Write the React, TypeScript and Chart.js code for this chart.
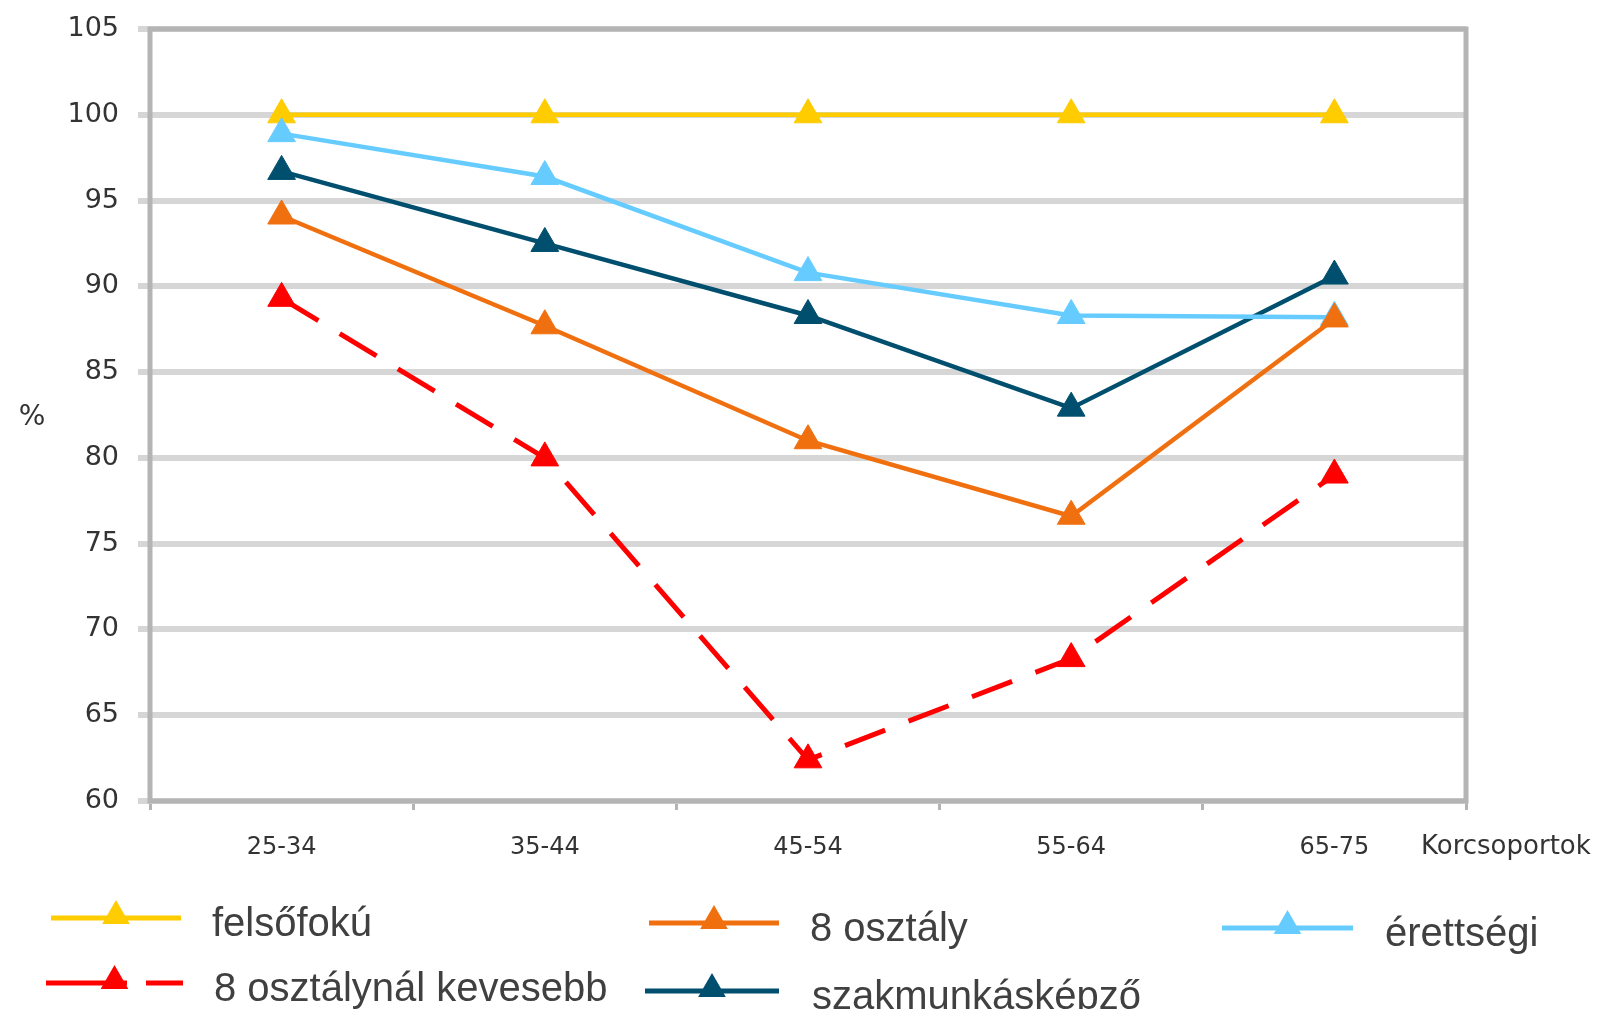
import React, { useEffect, useRef } from 'react';
import { Chart, registerables } from 'chart.js';

Chart.register(...registerables);

// Age groups on the x axis
const ageGroups = ['25-34', '35-44', '45-54', '55-64', '65-75'];

// Share (%) by highest level of education
const felsofoku = [100, 100, 100, 100, 100];
const osztaly8 = [94.1, 87.7, 81.0, 76.6, 88.1];
const erettsegi = [98.9, 96.4, 90.8, 88.3, 88.2];
const kevesebb8 = [89.3, 80.0, 62.4, 68.3, 79.0];
const szakmunkas = [96.7, 92.5, 88.3, 82.9, 90.6];

const seriesLabels = [
  'felsőfokú',
  '8 osztály',
  'érettségi',
  '8 osztálynál kevesebb',
  'szakmunkásképző',
];

const yMin = 60;
const yMax = 105;
const yStep = 5;
const yTitle = '%';
const xTitle = 'Korcsoportok';

const TICK_FONT = '"DejaVu Sans", sans-serif';
const LEGEND_FONT = '"Liberation Sans", Arial, sans-serif';
const TEXT_COLOR = '#333333';
const FRAME_COLOR = '#b4b4b4';

// Legend slot for each dataset (line start/end, line y, text x)
const legendSlots = [
  { x1: 51, x2: 181, y: 918, tx: 212, dash: [] as number[] },
  { x1: 649, x2: 779, y: 923, tx: 810, dash: [] as number[] },
  { x1: 1222, x2: 1353, y: 928, tx: 1385, dash: [] as number[] },
  { x1: 46, x2: 183, y: 983, tx: 214, dash: [81, 19, 40] },
  { x1: 645, x2: 779, y: 991, tx: 812, dash: [] as number[] },
];

function triangle(ctx: CanvasRenderingContext2D, x: number, y: number, r: number) {
  ctx.beginPath();
  ctx.moveTo(x, y - r);
  ctx.lineTo(x + r * 0.866, y + r / 2);
  ctx.lineTo(x - r * 0.866, y + r / 2);
  ctx.closePath();
  ctx.fill();
}

const framePlugin = {
  id: 'plotFrame',
  beforeDatasetsDraw(chart: any) {
    const { ctx, chartArea: a } = chart;
    ctx.save();
    ctx.strokeStyle = FRAME_COLOR;
    ctx.lineWidth = 5;
    ctx.strokeRect(a.left, a.top, a.right - a.left, a.bottom - a.top);
    ctx.restore();
  },
};

const annotationsPlugin = {
  id: 'legendAndTitles',
  afterDraw(chart: any) {
    const { ctx } = chart;
    ctx.save();
    // axis titles
    ctx.fillStyle = TEXT_COLOR;
    ctx.textBaseline = 'middle';
    ctx.textAlign = 'center';
    ctx.font = `28px ${TICK_FONT}`;
    ctx.fillText(yTitle, 32, 418);
    ctx.textAlign = 'left';
    ctx.font = `26px ${TICK_FONT}`;
    ctx.fillText(xTitle, 1421, 847);

    // legend
    chart.data.datasets.forEach((ds: any, i: number) => {
      const s = legendSlots[i];
      if (!s) return;
      ctx.strokeStyle = ds.borderColor;
      ctx.fillStyle = ds.borderColor;
      ctx.lineWidth = 5;
      ctx.setLineDash(s.dash);
      ctx.beginPath();
      ctx.moveTo(s.x1, s.y);
      ctx.lineTo(s.x2, s.y);
      ctx.stroke();
      ctx.setLineDash([]);
      triangle(ctx, (s.x1 + s.x2) / 2, s.y - 2, 16);
      ctx.fillStyle = '#404040';
      ctx.font = `40px ${LEGEND_FONT}`;
      ctx.textAlign = 'left';
      ctx.textBaseline = 'alphabetic';
      ctx.fillText(ds.label, s.tx, s.y + 18);
    });
    ctx.restore();
  },
};

function series(label: string, data: number[], color: string, order: number, dash: number[] = []) {
  return {
    label,
    data,
    borderColor: color,
    backgroundColor: color,
    pointBackgroundColor: color,
    pointBorderColor: color,
    borderWidth: dash.length ? 5 : 4.5,
    borderDash: dash,
    pointStyle: 'triangle',
    pointRadius: 16,
    pointBorderWidth: 1,
    tension: 0,
    fill: false,
    order,
  };
}

export default function App() {
  const canvasRef = useRef<HTMLCanvasElement | null>(null);

  useEffect(() => {
    const canvas = canvasRef.current;
    if (!canvas) return;
    const chart = new Chart(canvas, {
      type: 'line',
      data: {
        labels: ageGroups,
        datasets: [
          series(seriesLabels[0], felsofoku, '#ffcc00', 3),
          series(seriesLabels[1], osztaly8, '#f07010', 0),
          series(seriesLabels[2], erettsegi, '#66ccff', 1),
          series(seriesLabels[3], kevesebb8, '#ff0000', 4, [43, 25]),
          series(seriesLabels[4], szakmunkas, '#004f6e', 2),
        ],
      },
      options: {
        animation: false,
        responsive: false,
        maintainAspectRatio: false,
        devicePixelRatio: 1,
        layout: { padding: { top: 29, right: 131, left: 0, bottom: 0 } },
        plugins: {
          legend: { display: false },
          title: { display: false },
          tooltip: { enabled: false },
        },
        scales: {
          x: {
            type: 'category',
            offset: true,
            grid: {
              offset: true,
              drawOnChartArea: false,
              drawTicks: true,
              tickLength: 9,
              color: FRAME_COLOR,
              lineWidth: 3,
            },
            border: { display: false },
            ticks: {
              color: TEXT_COLOR,
              font: { family: TICK_FONT, size: 24 },
              padding: 23,
              maxRotation: 0,
            },
            afterFit: (s: any) => {
              s.height = 208;
              s.paddingLeft = 0;
              s.paddingRight = 0;
            },
          },
          y: {
            min: yMin,
            max: yMax,
            grid: {
              color: '#d6d6d6',
              lineWidth: 6,
              tickLength: 12,
              drawTicks: true,
            },
            border: { display: false },
            ticks: {
              stepSize: yStep,
              color: TEXT_COLOR,
              font: { family: TICK_FONT, size: 27 },
              padding: 19,
            },
            afterFit: (s: any) => {
              s.width = 150;
              s.paddingTop = 0;
              s.paddingBottom = 0;
            },
          },
        },
      },
      plugins: [framePlugin, annotationsPlugin],
    } as any);
    return () => chart.destroy();
  }, []);

  return (
    <div style={{ position: 'absolute', left: 0, top: 0, width: 1597, height: 1009, background: '#ffffff' }}>
      <canvas ref={canvasRef} width={1597} height={1009} style={{ display: 'block' }} />
    </div>
  );
}
